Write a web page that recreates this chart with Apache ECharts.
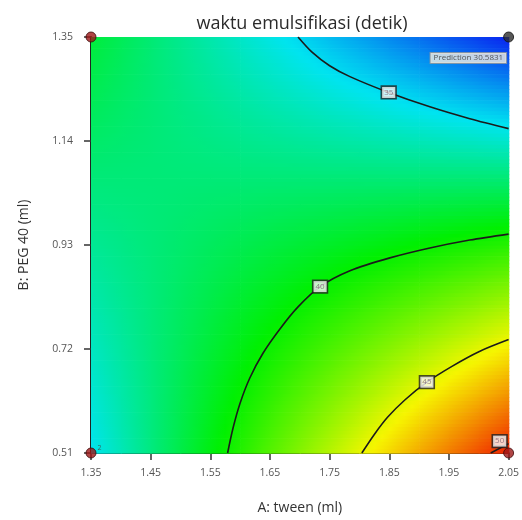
<!DOCTYPE html>
<html>
<head>
<meta charset="utf-8">
<script src="https://cdn.jsdelivr.net/npm/echarts@6/dist/echarts.min.js"></script>
<style>
  html, body { margin: 0; background: #fff; }
  #chart { width: 522px; height: 520px; }
</style>
</head>
<body>
<div id="chart"></div>
<script>
// grid nodes: A tween (ml) and B PEG 40 (ml)
const X_VALUES = [1.35, 1.40, 1.45, 1.50, 1.55, 1.60, 1.65, 1.70, 1.75, 1.80, 1.85, 1.90, 1.95, 2.00, 2.05]
const Y_VALUES = [0.51, 0.57, 0.63, 0.69, 0.75, 0.81, 0.87, 0.93, 0.99, 1.05, 1.11, 1.17, 1.23, 1.29, 1.35]

// waktu emulsifikasi (detik), one row per B value
const ROW_051 = [35.03, 36.14, 37.26, 38.37, 39.49, 40.60, 41.72, 42.83, 43.94, 45.06, 46.17, 47.29, 48.40, 49.52, 50.63]
const ROW_057 = [35.29, 36.28, 37.28, 38.27, 39.27, 40.26, 41.26, 42.25, 43.24, 44.24, 45.23, 46.23, 47.22, 48.22, 49.21]
const ROW_063 = [35.54, 36.42, 37.29, 38.17, 39.04, 39.91, 40.79, 41.66, 42.53, 43.41, 44.28, 45.16, 46.03, 46.90, 47.78]
const ROW_069 = [35.80, 36.55, 37.31, 38.06, 38.82, 39.57, 40.33, 41.08, 41.83, 42.59, 43.34, 44.10, 44.85, 45.61, 46.36]
const ROW_075 = [36.06, 36.69, 37.33, 37.96, 38.60, 39.23, 39.87, 40.50, 41.13, 41.77, 42.40, 43.04, 43.67, 44.30, 44.94]
const ROW_081 = [36.32, 36.83, 37.34, 37.86, 38.37, 38.89, 39.40, 39.92, 40.43, 40.95, 41.46, 41.97, 42.49, 43.00, 43.52]
const ROW_087 = [36.57, 36.97, 37.36, 37.75, 38.15, 38.54, 38.94, 39.33, 39.72, 40.12, 40.51, 40.90, 41.30, 41.69, 42.09]
const ROW_093 = [36.83, 37.10, 37.38, 37.65, 37.93, 38.20, 38.48, 38.75, 39.02, 39.30, 39.57, 39.85, 40.12, 40.40, 40.67]
const ROW_099 = [37.09, 37.24, 37.40, 37.55, 37.71, 37.86, 38.02, 38.17, 38.32, 38.48, 38.63, 38.79, 38.94, 39.09, 39.25]
const ROW_105 = [37.34, 37.38, 37.41, 37.44, 37.48, 37.51, 37.55, 37.58, 37.61, 37.65, 37.68, 37.72, 37.75, 37.79, 37.82]
const ROW_111 = [37.60, 37.51, 37.43, 37.34, 37.26, 37.17, 37.09, 37.00, 36.91, 36.83, 36.74, 36.66, 36.57, 36.49, 36.40]
const ROW_117 = [37.86, 37.65, 37.45, 37.24, 37.04, 36.83, 36.63, 36.42, 36.21, 36.01, 35.80, 35.60, 35.39, 35.19, 34.98]
const ROW_123 = [38.12, 37.79, 37.47, 37.14, 36.82, 36.49, 36.16, 35.84, 35.51, 35.19, 34.86, 34.54, 34.21, 33.88, 33.56]
const ROW_129 = [38.37, 37.93, 37.48, 37.04, 36.59, 36.14, 35.70, 35.25, 34.80, 34.36, 33.91, 33.47, 33.02, 32.57, 32.13]
const ROW_135 = [38.63, 38.06, 37.50, 36.93, 36.37, 35.80, 35.24, 34.67, 34.10, 33.54, 32.97, 32.41, 31.84, 31.28, 30.71]
const ROWS = [ROW_051, ROW_057, ROW_063, ROW_069, ROW_075, ROW_081, ROW_087, ROW_093,
  ROW_099, ROW_105, ROW_111, ROW_117, ROW_123, ROW_129, ROW_135]

// contour lines [A, B]
const CONTOUR_35 = [[1.697, 1.350], [1.720, 1.320], [1.750, 1.292], [1.784, 1.270], [1.849, 1.238],
  [1.918, 1.209], [1.985, 1.185], [2.050, 1.165]]
const CONTOUR_40 = [[1.579, 0.510], [1.588, 0.560], [1.600, 0.611], [1.616, 0.661], [1.638, 0.711],
  [1.667, 0.761], [1.697, 0.805], [1.734, 0.846], [1.784, 0.878], [1.851, 0.904], [1.918, 0.924],
  [1.985, 0.940], [2.050, 0.952]]
const CONTOUR_45 = [[1.804, 0.510], [1.824, 0.546], [1.847, 0.582], [1.876, 0.617], [1.913, 0.653],
  [1.955, 0.685], [2.001, 0.715], [2.050, 0.739]]
const CONTOUR_50 = [[2.020, 0.510], [2.050, 0.529]]
const CONTOUR_LABELS = [[1.849, 1.238, 35], [1.734, 0.846, 40], [1.913, 0.653, 45], [2.035, 0.534, 50]]

const DESIGN_POINTS = [[1.35, 1.35], [1.35, 0.51], [2.05, 0.51]]
const PREDICTION_POINT = [2.05, 1.35]
const PREDICTION_TEXT = 'Prediction 30.5831'

const X_TICKS = { min: 1.35, max: 2.05, interval: 0.1 }
const Y_TICKS = { min: 0.51, max: 1.35, interval: 0.21 }

// colour ramp (style): blue -> cyan -> green -> yellow -> red
const RAMP = [
  [30.58, '#0a1cf0'],
  [35.0, '#00e4f0'],
  [39.8, '#00f000'],
  [45.4, '#f6f600'],
  [50.63, '#f02000']
]
const STRIPS = 8

function colorOf(v) {
  if (v <= RAMP[0][0]) return RAMP[0][1]
  for (let k = 1; k < RAMP.length; k++) {
    if (v <= RAMP[k][0]) {
      const t = (v - RAMP[k - 1][0]) / (RAMP[k][0] - RAMP[k - 1][0])
      return echarts.color.lerp(t, [RAMP[k - 1][1], RAMP[k][1]])
    }
  }
  return RAMP[RAMP.length - 1][1]
}

// one item per cell between four grid nodes
const cells = []
for (let j = 0; j < Y_VALUES.length - 1; j++) {
  for (let i = 0; i < X_VALUES.length - 1; i++) {
    cells.push([X_VALUES[i], Y_VALUES[j], X_VALUES[i + 1], Y_VALUES[j + 1],
      ROWS[j][i], ROWS[j][i + 1], ROWS[j + 1][i], ROWS[j + 1][i + 1]])
  }
}

function renderCell(params, api) {
  const p0 = api.coord([api.value(0), api.value(3)])
  const p1 = api.coord([api.value(2), api.value(1)])
  const v00 = api.value(4), v10 = api.value(5), v01 = api.value(6), v11 = api.value(7)
  const w = p1[0] - p0[0]
  const h = (p1[1] - p0[1]) / STRIPS
  const children = []
  for (let k = 0; k < STRIPS; k++) {
    const s = (k + 0.5) / STRIPS
    const vl = v01 + (v00 - v01) * s
    const vr = v11 + (v10 - v11) * s
    const stops = []
    for (let q = 0; q <= 4; q++) {
      stops.push({ offset: q / 4, color: colorOf(vl + (vr - vl) * q / 4) })
    }
    children.push({
      type: 'rect',
      shape: { x: p0[0], y: p0[1] + k * h, width: w + 0.7, height: h + 0.7 },
      style: { fill: new echarts.graphic.LinearGradient(0, 0, 1, 0, stops) }
    })
  }
  return { type: 'group', children: children }
}

function contour(data) {
  return {
    type: 'line',
    data: data,
    smooth: 0.3,
    symbol: 'none',
    z: 5,
    lineStyle: { color: '#1b1b1b', width: 1.6 },
    silent: true
  }
}

const chart = echarts.init(document.getElementById('chart'))
const FONT = 'Open Sans'

chart.setOption({
  animation: false,
  backgroundColor: '#fff',
  textStyle: { fontFamily: FONT },
  title: {
    text: 'waktu emulsifikasi (detik)',
    left: 297,
    top: 10,
    textAlign: 'center',
    textStyle: { fontSize: 18, fontWeight: 'normal', color: '#2a2a2a', fontFamily: FONT }
  },
  grid: { left: 91, right: 13, top: 37, bottom: 65 },
  xAxis: {
    type: 'value',
    min: X_TICKS.min,
    max: X_TICKS.max,
    interval: X_TICKS.interval,
    name: 'A: tween (ml)',
    nameLocation: 'middle',
    nameGap: 48,
    nameTextStyle: { fontSize: 14, color: '#333' },
    splitLine: { show: false },
    axisLine: { lineStyle: { color: '#222', width: 2 } },
    axisTick: { length: 7, lineStyle: { color: '#333', width: 1.5 } },
    axisLabel: { fontSize: 10.5, color: '#555', margin: 15, formatter: v => v.toFixed(2) }
  },
  yAxis: {
    type: 'value',
    min: Y_TICKS.min,
    max: Y_TICKS.max,
    interval: Y_TICKS.interval,
    name: 'B: PEG 40 (ml)',
    nameLocation: 'middle',
    nameGap: 60,
    nameTextStyle: { fontSize: 14, color: '#333' },
    splitLine: { show: false },
    axisLine: { lineStyle: { color: '#222', width: 2 } },
    axisTick: { length: 7, lineStyle: { color: '#333', width: 1.5 } },
    axisLabel: { fontSize: 10.5, color: '#555', margin: 18, formatter: v => v.toFixed(2) }
  },
  series: [
    {
      type: 'custom',
      renderItem: renderCell,
      data: cells,
      encode: { x: [0, 2], y: [1, 3] },
      silent: true,
      z: 1
    },
    contour(CONTOUR_35),
    contour(CONTOUR_40),
    contour(CONTOUR_45),
    contour(CONTOUR_50),
    {
      type: 'scatter',
      data: CONTOUR_LABELS,
      symbolSize: 0,
      z: 8,
      label: {
        show: true,
        position: 'inside',
        formatter: p => p.value[2],
        fontSize: 8,
        color: '#7a6070',
        backgroundColor: '#fafafa',
        borderColor: '#222',
        borderWidth: 1.6,
        padding: [2, 2, 1, 2]
      }
    },
    {
      type: 'scatter',
      data: DESIGN_POINTS,
      symbolSize: 10,
      z: 9,
      clip: false,
      itemStyle: { color: '#9c1616', borderColor: '#3c0a0a', borderWidth: 1 },
      label: {
        show: true,
        formatter: p => (p.dataIndex === 1 ? '2' : ''),
        position: 'insideTopRight',
        offset: [10, -8],
        fontSize: 7,
        color: '#444'
      }
    },
    {
      type: 'scatter',
      data: [PREDICTION_POINT],
      symbolSize: 10,
      z: 9,
      clip: false,
      itemStyle: { color: '#2d2d2d', borderColor: '#111', borderWidth: 1 },
      label: {
        show: true,
        formatter: PREDICTION_TEXT,
        position: 'left',
        distance: 0,
        offset: [3, 21],
        fontSize: 8,
        color: '#333',
        backgroundColor: '#f3efe4',
        borderColor: '#999',
        borderWidth: 1,
        padding: [1, 3]
      }
    }
  ]
})
</script>
</body>
</html>
